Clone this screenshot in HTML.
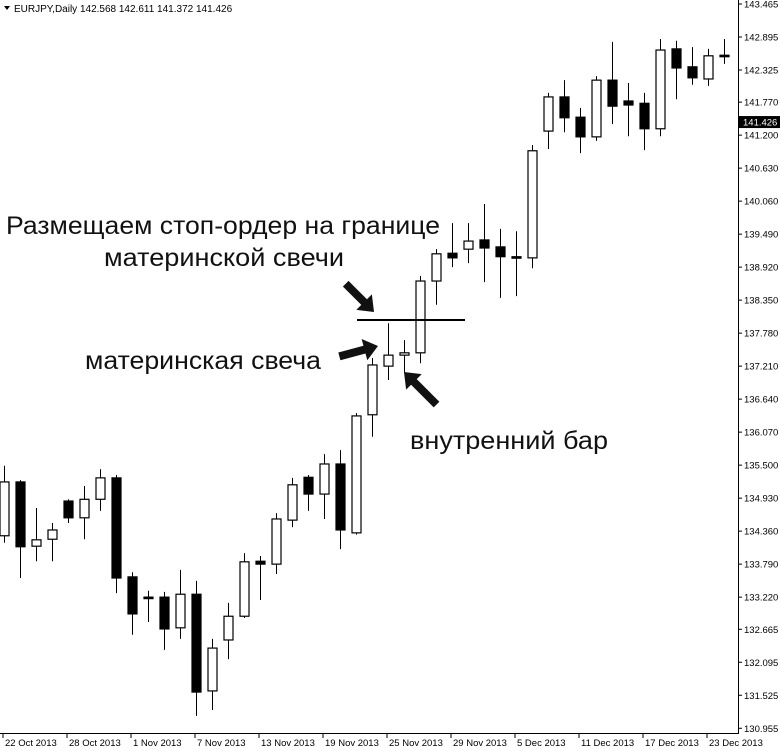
<!DOCTYPE html>
<html><head><meta charset="utf-8"><style>
html,body{margin:0;padding:0;background:#fff;}
svg{display:block;font-family:"Liberation Sans","DejaVu Sans",sans-serif;}
</style></head><body>
<svg id="chart" width="780" height="751" viewBox="0 0 780 751" xmlns="http://www.w3.org/2000/svg">
<rect x="0" y="0" width="780" height="751" fill="#fff"/>
<g id="candles"></g>
<g id="yaxis"></g>
<g id="xaxis"></g>
<g>
<path d="M4 6 L10 6 L7 10 Z" fill="#000"/>
<text x="14" y="12" font-size="10" fill="#000">EURJPY,Daily  142.568 142.611 141.372 141.426</text>
</g>
<g>
<text x="6" y="234" font-size="25" textLength="434" lengthAdjust="spacingAndGlyphs" fill="#111">Размещаем стоп-ордер на границе</text>
<text x="104" y="266" font-size="25" textLength="240" lengthAdjust="spacingAndGlyphs" fill="#111">материнской свечи</text>
<text x="85" y="369" font-size="25" textLength="236" lengthAdjust="spacingAndGlyphs" fill="#111">материнская свеча</text>
<text x="410" y="449" font-size="25" textLength="198" lengthAdjust="spacingAndGlyphs" fill="#111">внутренний бар</text>
<line x1="357" y1="320" x2="465" y2="320" stroke="#000" stroke-width="2"/>
<g transform="translate(374,312) rotate(45)">
<polygon points="0,0 -14,-11 -14,-4 -40,-4 -40,4 -14,4 -14,11" fill="#111"/></g>
<g transform="translate(378,346) rotate(-15)">
<polygon points="0,0 -14,-11 -14,-4 -40,-4 -40,4 -14,4 -14,11" fill="#111"/></g>
<g transform="translate(404,372) rotate(-135)">
<polygon points="0,0 -14,-11 -14,-4 -46,-4 -46,4 -14,4 -14,11" fill="#111"/></g>
</g>
</svg>
<script>
const opens  = [134.28,135.21,134.10,134.22,134.88,134.59,134.91,135.28,133.57,133.22,133.22,132.69,133.27,131.60,132.48,132.89,133.84,133.79,134.55,135.29,135.00,135.52,134.33,136.37,137.21,137.40,137.44,138.68,139.16,139.23,139.39,139.27,139.10,139.08,141.27,141.86,141.51,141.17,142.15,141.79,141.75,141.31,142.69,142.38,142.17,142.58];
const highs  = [135.49,135.24,134.76,134.50,134.91,135.14,135.43,135.33,133.65,133.33,133.31,133.69,133.50,132.50,133.12,133.98,133.93,134.67,135.28,135.33,135.69,135.76,136.40,137.35,137.95,137.66,138.77,139.23,139.68,139.68,140.01,139.58,139.54,141.03,141.93,142.15,141.67,142.22,142.81,142.10,141.93,142.86,142.83,142.72,142.69,142.86];
const lows   = [134.16,133.55,133.84,133.84,134.50,134.22,134.71,133.29,132.57,132.79,132.31,132.50,131.17,131.27,132.15,132.86,133.17,133.62,134.43,134.71,134.57,134.05,134.30,135.99,136.97,137.09,137.26,138.27,138.92,138.99,138.66,138.39,138.42,138.90,140.96,141.25,140.89,141.10,141.39,141.18,140.94,141.18,141.82,142.07,142.05,142.43];
const closes = [135.21,134.09,134.21,134.38,134.59,134.91,135.28,133.55,132.93,133.21,132.67,133.27,131.58,132.34,132.89,133.83,133.79,134.57,135.16,135.00,135.52,134.38,136.35,137.23,137.40,137.44,138.68,139.15,139.08,139.37,139.25,139.10,139.09,140.93,141.86,141.50,141.17,142.15,141.70,141.72,141.31,142.67,142.36,142.19,142.57,142.57];
const yTicks = ["143.465","142.895","142.325","141.770","141.200","140.630","140.060","139.490","138.920","138.350","137.780","137.210","136.640","136.070","135.500","134.930","134.360","133.790","133.220","132.665","132.095","131.525","130.955"];
const dateLabels = ["22 Oct 2013","28 Oct 2013","1 Nov 2013","7 Nov 2013","13 Nov 2013","19 Nov 2013","25 Nov 2013","29 Nov 2013","5 Dec 2013","11 Dec 2013","17 Dec 2013","23 Dec 2013"];
const lastPrice = 141.426;

const NS="http://www.w3.org/2000/svg";
const yScale = p => 37 + (142.895 - p) / 0.57 * 33;
const xScale = i => 4.5 + i * 16;
function mk(tag, attrs, parent){const e=document.createElementNS(NS,tag);for(const k in attrs)e.setAttribute(k,attrs[k]);parent.appendChild(e);return e;}

const cg=document.getElementById('candles');
for(let i=0;i<opens.length;i++){
  const x=xScale(i), o=yScale(opens[i]), c=yScale(closes[i]), h=yScale(highs[i]), l=yScale(lows[i]);
  const g=mk('g',{},cg);
  
  
  mk('line',{x1:x,y1:h,x2:x,y2:l,stroke:'#000','stroke-width':1},g);
  const bull=closes[i]>=opens[i];
  const top=Math.min(o,c), ht=Math.max(Math.abs(o-c),1.5);
  const r=mk('rect',{x:x-4.5,y:top,width:9,height:ht,fill:bull?'#fff':'#000',stroke:'#000','stroke-width':1.2},g);
  
  
}

const ya=document.getElementById('yaxis');
mk('line',{x1:738.5,y1:0,x2:738.5,y2:733,stroke:'#000','stroke-width':1},ya);
yTicks.forEach(t=>{
  const y=yScale(parseFloat(t));
  mk('line',{x1:738,y1:y,x2:742,y2:y,stroke:'#000'},ya);
  const tx=mk('text',{x:744,y:y+3.5,'font-size':9.5,fill:'#000'},ya);
  tx.textContent=t;
  
  
});
const ly=yScale(lastPrice);
const lb=mk('rect',{x:739,y:ly-6,width:41,height:12,fill:'#000'},ya);


const lt=mk('text',{x:743,y:ly+3.5,'font-size':9.5,fill:'#fff'},ya);
lt.textContent=lastPrice.toFixed(3);



const xa=document.getElementById('xaxis');
mk('line',{x1:0,y1:733.5,x2:739,y2:733.5,stroke:'#000','stroke-width':1},xa);
dateLabels.forEach((d,k)=>{
  const x=xScale(k*4)-1.5;
  mk('line',{x1:x,y1:733,x2:x,y2:738,stroke:'#000'},xa);
  const tx=mk('text',{x:x+2,y:746,'font-size':9.5,fill:'#000'},xa);
  tx.textContent=d;
  
  
});
</script>
</body></html>
